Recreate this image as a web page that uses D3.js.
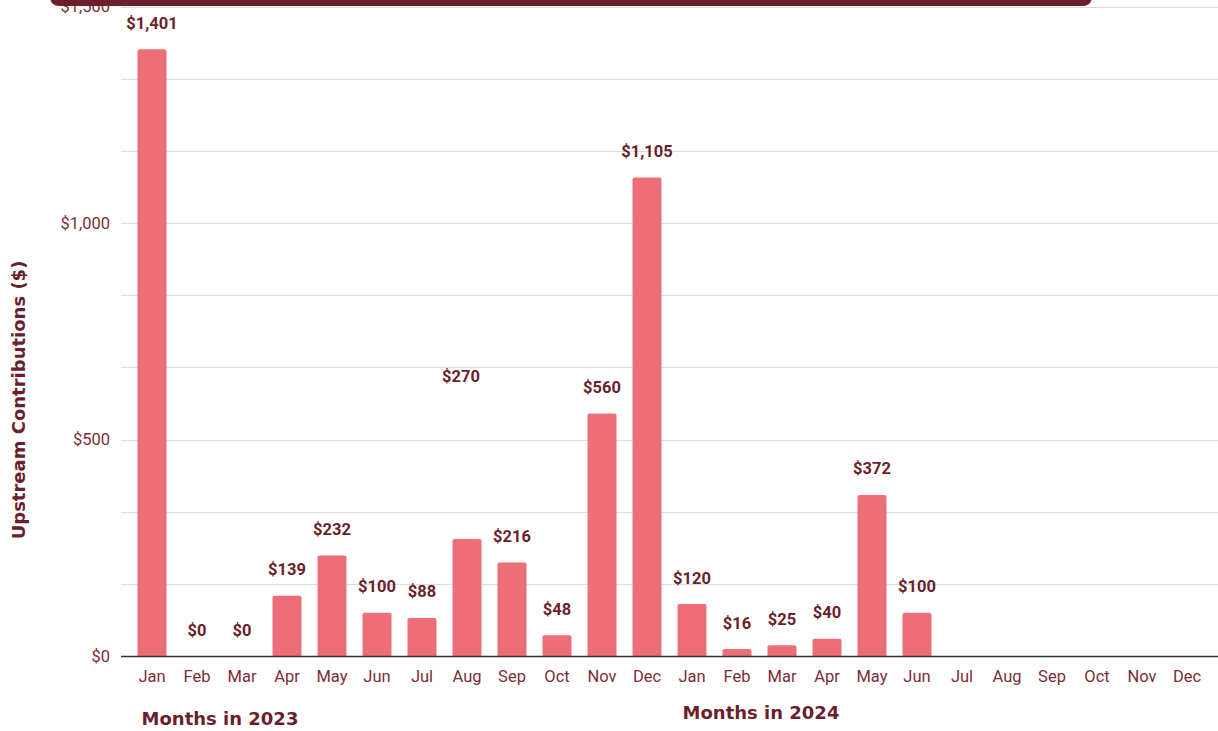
<!DOCTYPE html>
<html><head><meta charset="utf-8">
<script src="https://cdn.jsdelivr.net/npm/d3@7"></script>
<style>body{margin:0;background:#fff;} svg{display:block;}</style>
</head><body>
<svg id="c" width="1218" height="731"></svg>
<script>
const months = ["Jan","Feb","Mar","Apr","May","Jun","Jul","Aug","Sep","Oct","Nov","Dec",
                "Jan","Feb","Mar","Apr","May","Jun","Jul","Aug","Sep","Oct","Nov","Dec"];
const years = [2023,2023,2023,2023,2023,2023,2023,2023,2023,2023,2023,2023,
               2024,2024,2024,2024,2024,2024,2024,2024,2024,2024,2024,2024];
const values = [1401,0,0,139,232,100,88,270,216,48,560,1105,
                120,16,25,40,372,100,null,null,null,null,null,null];
const yTickLabels = [0,500,1000,1500];
const yTitle = "Upstream Contributions ($)";
const xTitles = ["Months in 2023","Months in 2024"];

const svg = d3.select("#c");
const maroon = "#6b1f2c";
const tickCol = "#7a2e3a";
const left = 121, right = 1218;
const x = d3.scaleBand().domain(d3.range(months.length)).range([129.5, 1209.5]).paddingInner(0.356).paddingOuter(0.178);
const y = d3.scaleLinear().domain([0,1500]).range([656, 6.5]);

// gridlines
const grid = d3.range(0, 1501, 500/3);
svg.append("g").selectAll("line").data(grid.slice(1)).join("line")
  .attr("x1", left).attr("x2", right)
  .attr("y1", d=>Math.round(y(d))+0.5).attr("y2", d=>Math.round(y(d))+0.5)
  .attr("stroke", "#dcdcdc").attr("stroke-width",1);

// y axis labels
const yAxis = d3.axisLeft(y).tickValues(yTickLabels).tickSize(0).tickPadding(0)
  .tickFormat(d => "$" + d3.format(",")(d));
const ga = svg.append("g").attr("transform", `translate(110,0)`).call(yAxis);
ga.select(".domain").remove();
ga.selectAll("text").attr("font-family","Roboto, 'Liberation Sans', sans-serif").attr("font-size",16.5)
  .attr("fill", tickCol);

// bars
const r = 2;
svg.append("g").selectAll("path").data(values.map((v,i)=>({v,i})).filter(d=>d.v!=null && d.v>0)).join("path")
  .attr("d", d => {
    const x0 = x(d.i), w = x.bandwidth(), y0 = y(d.v), yb = y(0);
    return `M${x0},${yb}V${y0+r}Q${x0},${y0} ${x0+r},${y0}H${x0+w-r}Q${x0+w},${y0} ${x0+w},${y0+r}V${yb}Z`;
  })
  .attr("fill", "#ee6e77");

// baseline
svg.append("line").attr("x1", left).attr("x2", right).attr("y1", y(0)+0.5).attr("y2", y(0)+0.5)
  .attr("stroke", "#333").attr("stroke-width", 1.3);

// value labels
svg.append("g").selectAll("text").data(values.map((v,i)=>({v,i})).filter(d=>d.v!=null)).join("text")
  .attr("x", d => x(d.i) + x.bandwidth()/2 + (d.i===7 ? -6 : 0))
  .attr("y", d => d.i===7 ? 382 : y(d.v) - 20.5)
  .attr("text-anchor","middle")
  .attr("font-family","Roboto, 'Liberation Sans', sans-serif").attr("font-weight",700).attr("font-size",16.5)
  .attr("fill", maroon)
  .text(d => "$" + d3.format(",")(d.v));

// x axis labels
const xAxis = d3.axisBottom(x).tickSize(0).tickPadding(0).tickFormat(i => months[i]);
const gx = svg.append("g").attr("transform", `translate(0,682)`).call(xAxis);
gx.select(".domain").remove();
gx.selectAll("text").attr("dy", 0).attr("font-family","Roboto, 'Liberation Sans', sans-serif").attr("font-size",16.5)
  .attr("fill", tickCol);

// axis titles
svg.append("text").attr("transform","translate(25,400) rotate(-90)").attr("text-anchor","middle")
  .attr("font-family","'DejaVu Sans', sans-serif").attr("font-weight",700).attr("font-size",18)
  .attr("fill", maroon).text(yTitle);
svg.append("text").attr("x", 220).attr("y", 725).attr("text-anchor","middle")
  .attr("font-family","'DejaVu Sans', sans-serif").attr("font-weight",700).attr("font-size",18)
  .attr("fill", maroon).text(xTitles[0]);
svg.append("text").attr("x", 761).attr("y", 719).attr("text-anchor","middle")
  .attr("font-family","'DejaVu Sans', sans-serif").attr("font-weight",700).attr("font-size",18)
  .attr("fill", maroon).text(xTitles[1]);

// top banner
svg.append("path").attr("d", "M50,-20H1092V-4Q1092,6 1082,6H60Q50,6 50,-4Z").attr("fill", maroon);
</script>
</body></html>
